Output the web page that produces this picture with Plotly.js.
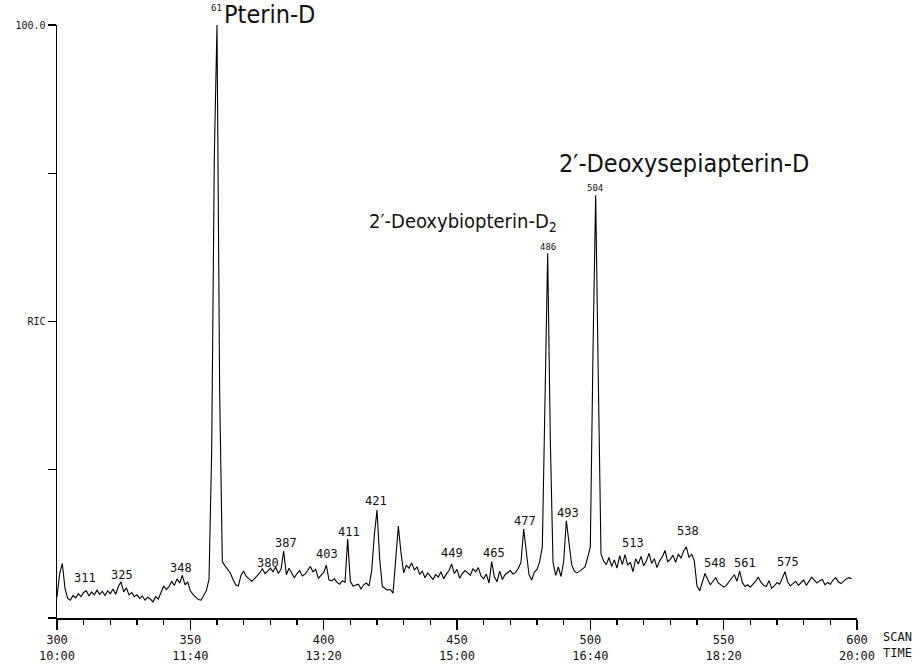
<!DOCTYPE html>
<html>
<head>
<meta charset="utf-8">
<script src="https://cdn.plot.ly/plotly-3.0.1.min.js"></script>
<style>html,body{margin:0;padding:0;background:#fff;}#chart{width:920px;height:664px;}</style>
</head>
<body>
<div id="chart"></div>
<script>
// Scan numbers 300..598 and relative ion current (RIC, % of max)
const scanStart = 300;
const ricValues = [
  3.5, 7.5, 9.2, 5.0, 3.3, 3.0, 3.8, 3.4, 4.1, 3.6,        // 300-309
  4.3, 4.6, 3.7, 4.4, 3.9, 4.7, 4.0, 4.5, 3.8, 4.6,        // 310-319
  4.1, 4.9, 4.0, 5.3, 6.1, 4.4, 5.1, 3.9, 4.3, 3.6,        // 320-329
  3.9, 3.3, 3.7, 3.0, 3.5, 3.2, 2.7, 3.6, 3.2, 4.4,        // 330-339
  5.4, 4.8, 5.3, 6.2, 5.5, 6.6, 5.9, 7.2, 5.6, 6.1,        // 340-349
  4.6, 4.0, 3.5, 3.1, 3.0, 3.7, 4.6, 6.5, 28, 78,          // 350-359
  100, 38, 9.5, 8.8, 8.1, 7.6, 6.5, 5.6, 5.4, 7.2,         // 360-369
  7.9, 7.0, 6.6, 6.2, 6.6, 7.1, 7.6, 8.3, 7.5, 7.9,        // 370-379
  8.4, 7.8, 8.6, 7.5, 8.2, 11.3, 7.3, 8.4, 7.6, 6.8,       // 380-389
  7.5, 8.0, 7.1, 7.4, 8.0, 8.7, 7.8, 8.2, 6.7, 7.2,        // 390-399
  7.7, 8.9, 6.4, 6.3, 6.6, 6.0, 5.7, 6.3, 6.0, 13.3,       // 400-409
  6.2, 5.4, 5.6, 5.7, 4.9, 5.6, 5.9, 5.4, 7.9, 14.0,       // 410-419
  18.2, 10.0, 5.3, 5.0, 4.7, 4.8, 4.2, 9.8, 15.5, 11.0,    // 420-429
  7.6, 8.9, 8.4, 9.3, 8.1, 8.6, 7.4, 7.9, 6.8, 7.6,        // 430-439
  7.1, 6.5, 7.3, 6.9, 7.8, 6.6, 7.4, 8.0, 9.1, 7.5,        // 440-449
  8.2, 6.7, 7.5, 8.0, 7.6, 7.2, 8.3, 7.8, 8.5, 7.1,        // 450-459
  6.6, 7.4, 5.9, 9.5, 7.0, 6.1, 7.9, 6.5, 7.3, 7.7,        // 460-469
  8.0, 7.4, 7.7, 8.4, 9.4, 15.0, 11.5, 7.3, 6.4, 7.7,      // 470-479
  8.2, 9.5, 12.0, 35, 61.5, 30, 9.4, 7.2, 8.6, 7.0,        // 480-489
  9.5, 16.4, 13.0, 9.0, 7.9, 7.6, 7.9, 8.2, 8.6, 10.2,     // 490-499
  12.0, 45, 71.3, 40, 10.8, 9.6, 9.0, 10.2, 8.7, 9.8,      // 500-509
  8.4, 10.5, 9.0, 10.7, 8.9, 9.4, 7.8, 10.0, 9.1, 10.4,    // 510-519
  8.8, 9.6, 10.9, 9.2, 10.0, 8.5, 9.7, 10.3, 11.4, 9.5,    // 520-529
  9.9, 10.6, 9.4, 10.8, 10.1, 11.3, 12.0, 10.2, 10.8, 9.6, // 530-539
  5.4, 4.6, 6.0, 7.5, 6.5, 5.6, 6.2, 6.8, 5.9, 5.6,        // 540-549
  5.2, 5.5, 6.1, 6.8, 7.3, 6.2, 7.9, 6.0, 5.3, 5.6,        // 550-559
  5.2, 5.7, 6.2, 6.9, 6.0, 5.5, 5.3, 6.3, 5.0, 5.4,        // 560-569
  6.0, 5.7, 6.9, 7.8, 6.1, 5.4, 5.8, 6.2, 5.5, 5.9,        // 570-579
  6.4, 5.5, 6.2, 6.9, 6.4, 5.9, 6.3, 6.5, 5.6, 6.0,        // 580-589
  5.7, 6.4, 6.8, 6.1, 5.8, 6.2, 6.6, 6.8, 6.6              // 590-598
];
const scans = ricValues.map((v, i) => scanStart + i);

// Peak scan-number labels
const peakLabels = ["311","325","348","61","380","387","403","411","421","449","465","477","486","493","504","513","538","548","561","575"];
const peakLabelX = [310.5,324.4,346.5,359.8,379,386,401.2,409.5,419.6,448,463.9,475.5,484.1,491.6,501.6,516,536.6,546.7,558,574.1];
const peakLabelY = [6.8,7.3,8.4,102.9,9.3,12.7,10.8,14.5,19.8,11,11,16.4,62.5,17.7,72.5,12.7,14.7,9.3,9.3,9.5];
const peakLabelSmall = ["61","486","504"];

// Compound names
const compoundNames = ["Pterin-D", "2′-Deoxybiopterin-D<sub>2</sub>", "2′-Deoxysepiapterin-D"];
const compoundX = [361.9, 416.2, 487.5];
const compoundY = [101.7, 66.7, 76.7];
const compoundSize = [25, 20, 25];

// Axis ticks
const xTickVals = [300, 350, 400, 450, 500, 550, 600];
const xTickTimes = ["10:00", "11:40", "13:20", "15:00", "16:40", "18:20", "20:00"];
const yTickVals = [50, 100];
const yTickText = ["RIC", "100.0"];
const yMax = 100;

const monoFont = "DejaVu Sans Mono, Liberation Mono, monospace";
const nameFont = "DejaVu Sans Condensed, Liberation Sans Narrow, Roboto, sans-serif";
const pxPerUnit = 5.92; // vertical pixels per RIC unit in this layout

// Labels above the top of the axis range are anchored at the top and shifted up
function anchorY(v) {
  return v > yMax ? {y: yMax, yshift: (v - yMax) * pxPerUnit} : {y: v, yshift: 0};
}

const annotations = [];
peakLabels.forEach((t, i) => {
  const small = peakLabelSmall.includes(t);
  const a = anchorY(peakLabelY[i]);
  annotations.push({
    x: peakLabelX[i], y: a.y, yshift: a.yshift, xref: 'x', yref: 'y',
    text: t, showarrow: false, xanchor: 'center', yanchor: 'middle',
    font: {family: monoFont, size: small ? 9 : 12, color: '#111'}
  });
});
compoundNames.forEach((t, i) => {
  const a = anchorY(compoundY[i]);
  annotations.push({
    x: compoundX[i], y: a.y, yshift: a.yshift, xref: 'x', yref: 'y',
    text: t, showarrow: false, xanchor: 'left', yanchor: 'middle',
    font: {family: nameFont, size: compoundSize[i], color: '#111'}
  });
});
annotations.push({
  x: 1.05, y: 0, xref: 'paper', yref: 'paper', yanchor: 'top', xanchor: 'center',
  yshift: -10, text: 'SCAN<br>TIME', showarrow: false, align: 'center',
  font: {family: monoFont, size: 12, color: '#111'}
});

const trace = {
  x: scans, y: ricValues, type: 'scatter', mode: 'lines',
  line: {color: '#000', width: 1.1}, hoverinfo: 'skip', cliponaxis: false
};

const layout = {
  width: 920, height: 664,
  margin: {l: 57, r: 63, t: 25, b: 46},
  paper_bgcolor: '#fff', plot_bgcolor: '#fff',
  showlegend: false,
  xaxis: {
    range: [300, 600], showgrid: false, zeroline: false,
    showline: true, linecolor: '#000', linewidth: 1.5,
    tickmode: 'array', tickvals: xTickVals,
    ticktext: xTickVals.map((v, i) => v + '<br>' + xTickTimes[i]),
    ticks: 'outside', ticklen: 10, tickwidth: 1.5, tickcolor: '#000',
    minor: {dtick: 10, ticks: 'outside', ticklen: 5, tickwidth: 1.2, tickcolor: '#000', showgrid: false},
    tickfont: {family: monoFont, size: 12, color: '#111'}
  },
  yaxis: {
    range: [0, yMax], showgrid: false, zeroline: false,
    showline: true, linecolor: '#000', linewidth: 1.5,
    tickmode: 'array', tickvals: yTickVals, ticktext: yTickText,
    ticks: 'outside', ticklen: 8, tickwidth: 1.2, tickcolor: '#000',
    minor: {tick0: 0, dtick: 25, ticks: 'outside', ticklen: 8, tickwidth: 1.2, tickcolor: '#000', showgrid: false},
    tickfont: {family: monoFont, size: 10, color: '#111'}
  },
  annotations: annotations
};

Plotly.newPlot('chart', [trace], layout, {staticPlot: true, displayModeBar: false});
</script>
</body>
</html>
